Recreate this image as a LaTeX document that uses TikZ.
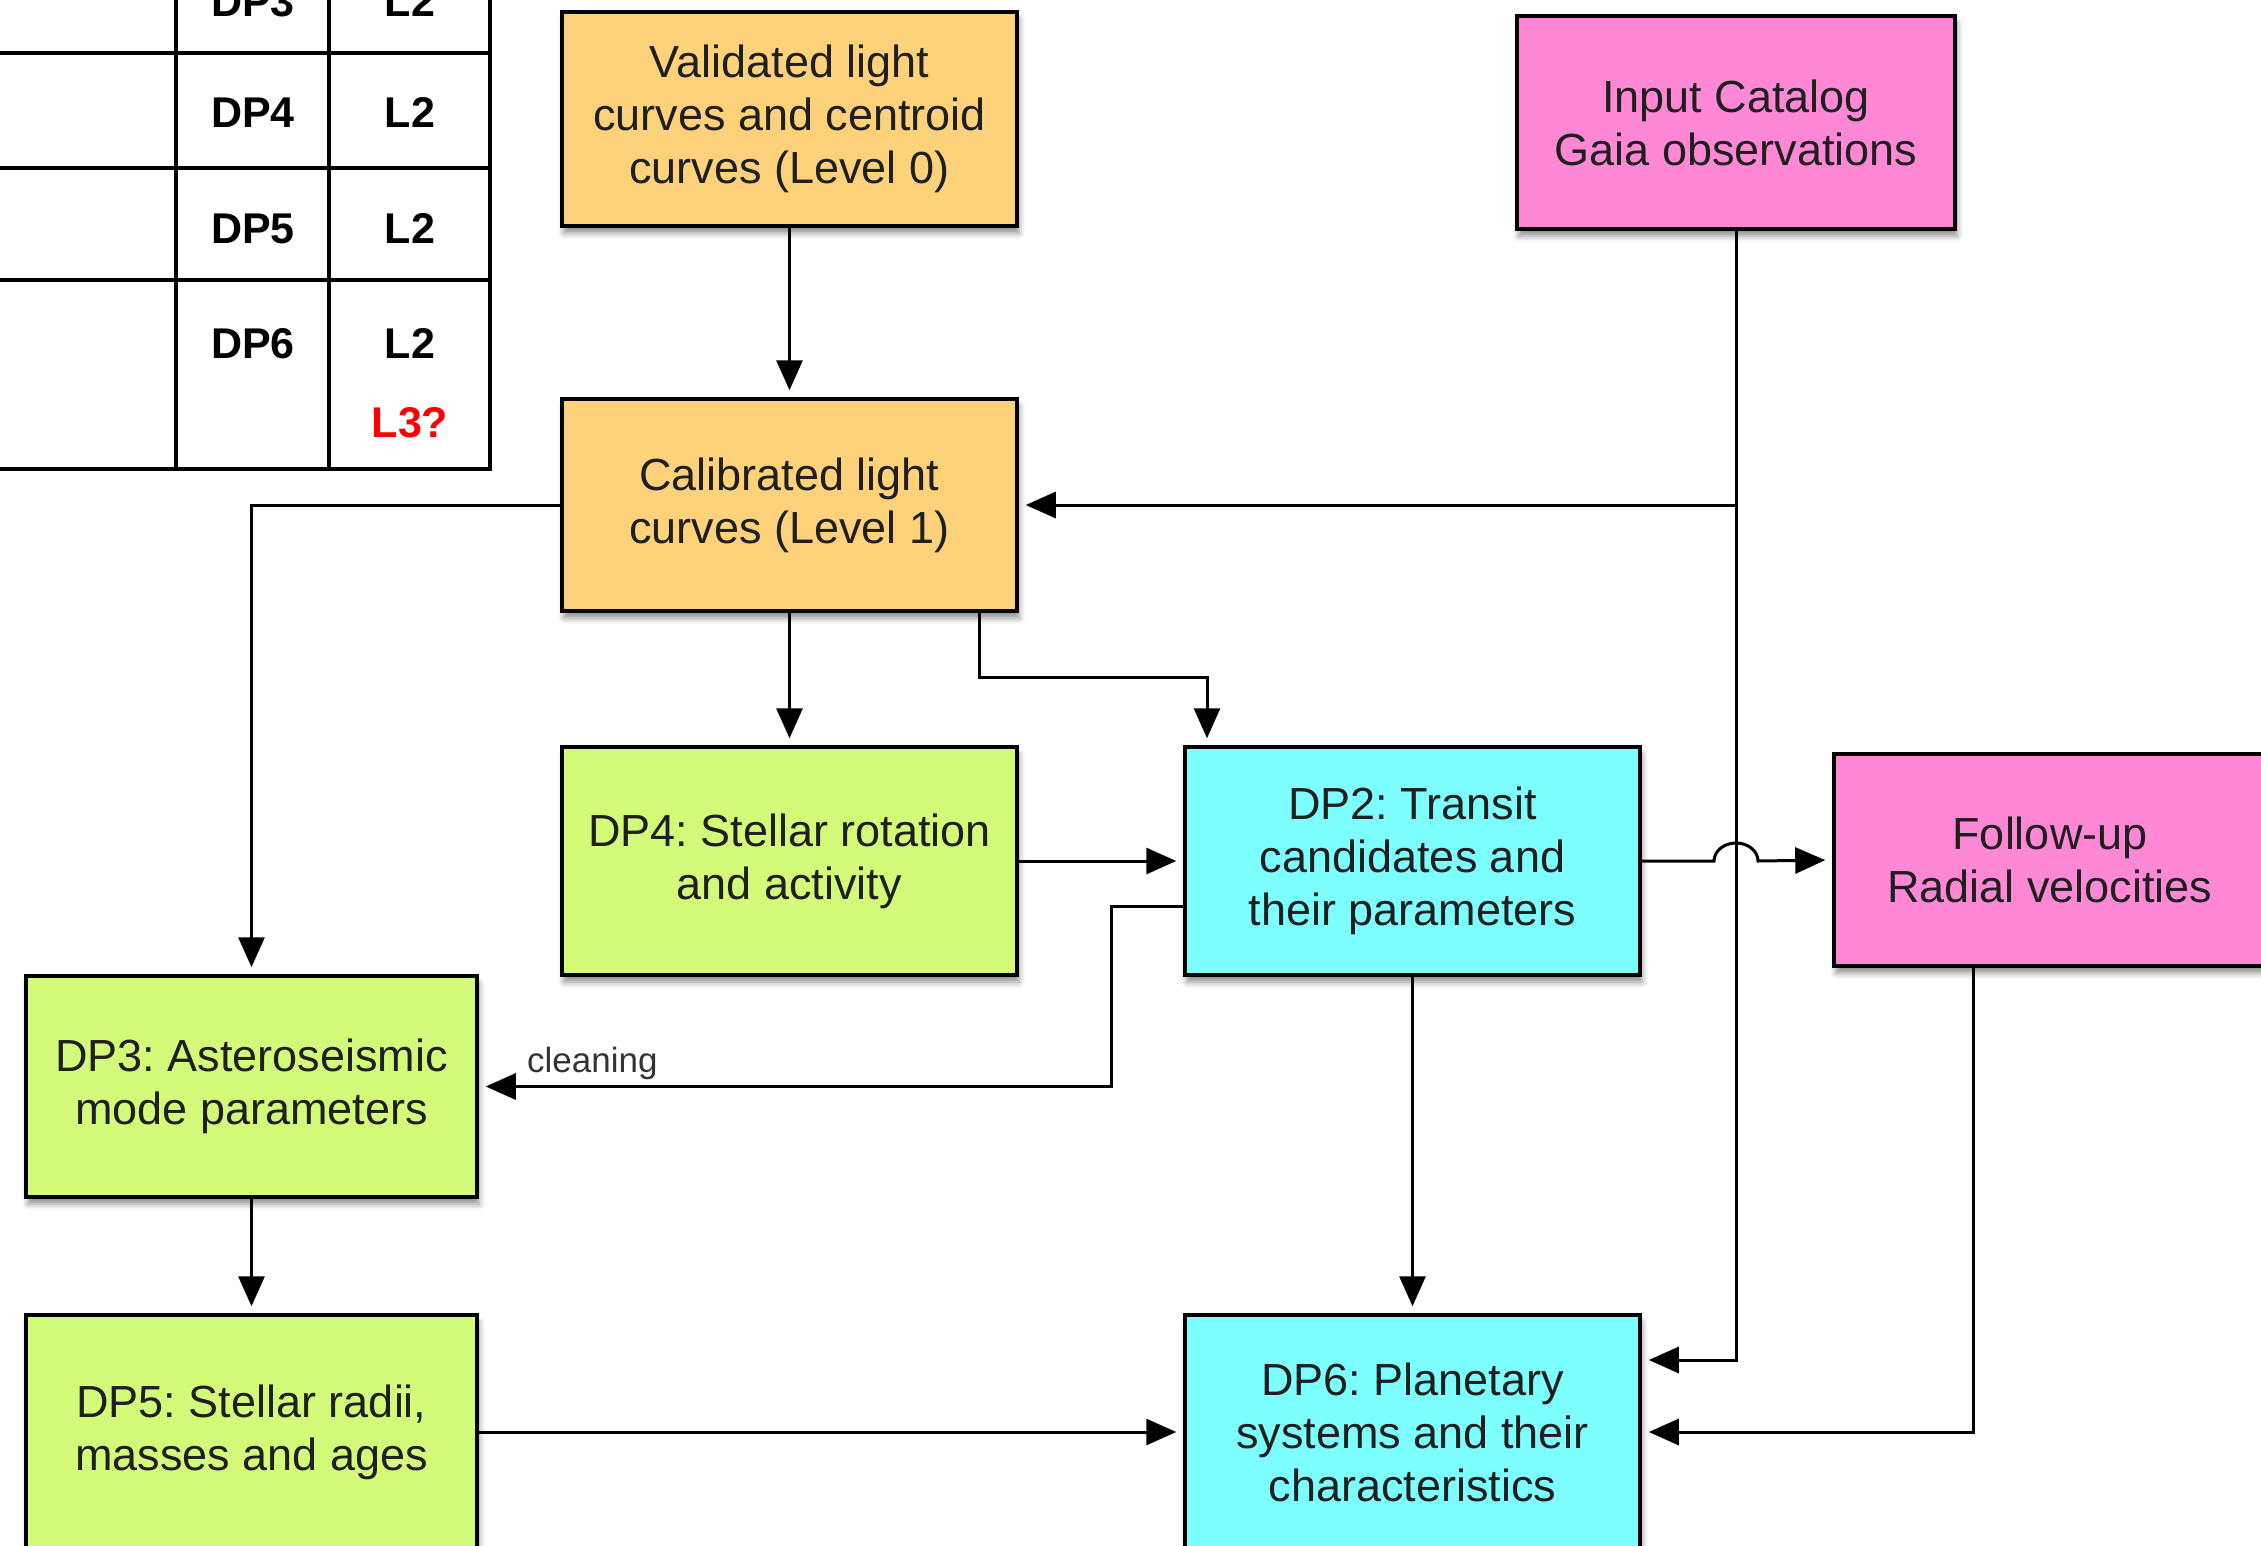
\documentclass[tikz,border=0pt]{standalone}
\usepackage{fontspec}
\setmainfont{Liberation Sans}
\frenchspacing
\usetikzlibrary{arrows.meta,shadows.blur}
\definecolor{lvlorange}{HTML}{FDD27B}
\definecolor{extpink}{HTML}{FF88D6}
\definecolor{dpgreen}{HTML}{D4FA7A}
\definecolor{dpcyan}{HTML}{7EFFFF}
\definecolor{labelgray}{HTML}{333333}
\begin{document}
\begin{tikzpicture}[x=1pt,y=-1pt,
  box/.style={draw=black, line width=3.5pt, align=center, inner sep=0pt,
    text=black!88, font=\fontsize{45}{53}\selectfont,
    blur shadow={shadow xshift=2pt, shadow yshift=-7pt,
      shadow blur radius=6pt, shadow opacity=45}},
  lvl/.style={box, fill=lvlorange},
  ext/.style={box, fill=extpink},
  dpg/.style={box, fill=dpgreen},
  dpc/.style={box, fill=dpcyan},
  arr/.style={draw=black, line width=3pt,
    -{Triangle[length=30pt,width=26pt]}, shorten >=7pt},
  tbl/.style={draw=black, line width=3.5pt},
  tcell/.style={anchor=base, inner sep=0pt, font=\bfseries\fontsize{43}{50}\selectfont},
  lbl/.style={inner sep=0pt, text=labelgray, font=\fontsize{35}{40}\selectfont}
]
\useasboundingbox (0,0) rectangle (2261,1546);

% summary table (upper left)
\draw[tbl] (0,53) -- (490,53);
\draw[tbl] (0,168) -- (490,168);
\draw[tbl] (0,280) -- (490,280);
\draw[tbl] (0,469) -- (491.75,469);
\draw[tbl] (176,-5) -- (176,469);
\draw[tbl] (329,-5) -- (329,469);
\draw[tbl] (490,-5) -- (490,469);
\node[tcell] (t3a) at (253,17) {DP3};
\node[tcell] (t3b) at (410,17) {L2};
\node[tcell] (t4a) at (253,128) {DP4};
\node[tcell] (t4b) at (410,128) {L2};
\node[tcell] (t5a) at (253,244) {DP5};
\node[tcell] (t5b) at (410,244) {L2};
\node[tcell] (t6a) at (253,358) {DP6};
\node[tcell] (t6b) at (410,358) {L2};
\node[tcell, text=red] (t6c) at (410,437) {L3?};

% boxes
\node[lvl, minimum width=455pt, minimum height=214pt] (val) at (789.5,119)
  {Validated light\\curves and centroid\\curves (Level 0)};
\node[ext, minimum width=438pt, minimum height=213pt] (inp) at (1736,122.5)
  {Input Catalog\\Gaia observations};
\node[lvl, minimum width=455pt, minimum height=212pt] (cal) at (789.5,505)
  {Calibrated light\\curves (Level 1)};
\node[dpg, minimum width=455pt, minimum height=228pt] (dp4) at (789.5,861)
  {DP4: Stellar rotation\\and activity};
\node[dpc, minimum width=455pt, minimum height=228pt] (dp2) at (1412.5,861)
  {DP2: Transit\\candidates and\\their parameters};
\node[ext, minimum width=432pt, minimum height=212pt] (fu) at (2050,860)
  {Follow-up\\Radial velocities};
\node[dpg, minimum width=451pt, minimum height=221pt] (dp3) at (251.5,1086.5)
  {DP3: Asteroseismic\\mode parameters};
\node[dpg, minimum width=451pt, minimum height=234pt] (dp5) at (251.5,1432)
  {DP5: Stellar radii,\\masses and ages};
\node[dpc, minimum width=455pt, minimum height=234pt] (dp6) at (1412.5,1432)
  {DP6: Planetary\\systems and their\\characteristics};

% connectors
\draw[arr] (val.south) -- (cal.north);
\draw[arr] (inp.south) |- ([yshift=72pt]dp6.east);
\draw[arr] (inp.south |- cal.east) -- (cal.east);
\draw[arr] (cal.west) -| (dp3.north);
\draw[arr] (cal.south) -- (dp4.north);
\draw[arr] ([xshift=189.5pt]cal.south) -- ++(0,65) -| ([xshift=-205.5pt]dp2.north);
\draw[arr] (dp4.east) -- (dp2.west);
\draw[arr] ([yshift=-45pt]dp2.west) -- ++(-72,0) |- (dp3.east);
\node[lbl, anchor=south west] (clean) at (527,1080) {cleaning};
\coordinate (jmp) at (inp.south |- dp2.east);
\draw[arr] (dp2.east) -- ([xshift=-22pt]jmp)
  arc[start angle=180, end angle=0, x radius=22pt, y radius=18pt] -- (fu.west);
\draw[arr] (dp2.south) -- (dp6.north);
\draw[arr] (dp3.south) -- (dp5.north);
\draw[arr] (dp5.east) -- (dp6.west);
\draw[arr] ([xshift=-77pt]fu.south) |- (dp6.east);
\end{tikzpicture}
\end{document}
